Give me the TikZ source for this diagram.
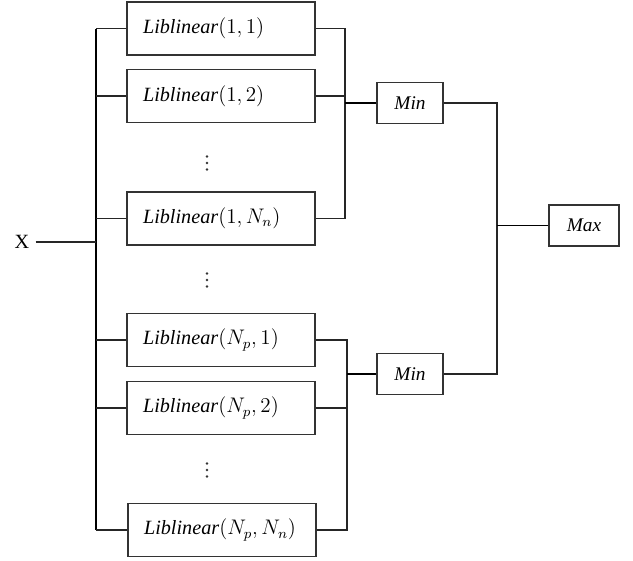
\documentclass[tikz,border=0pt]{standalone}
\usepackage{fontspec}
\setmainfont{Liberation Serif}
\usetikzlibrary{positioning}

\tikzset{
	learner/.style={draw=black!80, line width=0.7pt, text width=3.12cm, align=left,
		inner xsep=0.32cm, minimum height=1.06cm, font=\fontsize{11.5}{13}\selectfont},
	opbox/.style={draw=black!80, line width=0.7pt, minimum width=1.32cm,
		minimum height=0.82cm, font=\fontsize{11}{13}\selectfont\itshape},
	wire/.style={black!85, line width=0.6pt},
	bus/.style={black, line width=1pt},
}
\newcommand{\lib}[2]{\textit{Liblinear}$\bigl(#1,#2\bigr)$}
\newcommand{\skipdots}[1]{\foreach \k in {-1,0,1} \fill[black!80] (#1) ++(0,\k*6.5) circle (0.8pt);}

\begin{document}
\begin{tikzpicture}[x=0.02cm, y=-0.02cm]
	\useasboundingbox (0,0) rectangle (633,561);
	% learners of the first group
	\node[learner] (l11) at (221,28.5) {\lib{1}{1}};
	\node[learner] (l12) at (221,96) {\lib{1}{2}};
	\coordinate (d1) at (207,163);
	\node[learner] (l1n) at (221,218.5) {\lib{1}{N_n}};
	\coordinate (d2) at (207,280);
	% learners of the last group
	\node[learner] (lp1) at (221,340) {\lib{N_p}{1}};
	\node[learner] (lp2) at (221,408) {\lib{N_p}{2}};
	\coordinate (d3) at (207,470);
	\node[learner] (lpn) at (222,530) {\lib{N_p}{N_n}};
	\skipdots{d1} \skipdots{d2} \skipdots{d3}
	% min / max
	\node[opbox] (min1) at (410,103) {Min};
	\node[opbox] (min2) at (410,374) {Min};
	\node[opbox, minimum width=1.4cm] (maxn) at (584,225.5) {Max};
	\node[font=\fontsize{11.5}{13}\selectfont] (xin) at (22,242) {X};

	\coordinate (bt) at (96,28.5);
	\coordinate (bb) at (96,530);
	\coordinate (r1) at (345,28.5);
	\coordinate (r2) at (347,340);
	\coordinate (jn) at (497,225.5);

	% input bus
	\draw[bus] (bt) -- (bb);
	\draw[wire] (xin) -- (xin -| bt);
	\foreach \n in {l11,l12,l1n,lp1,lp2,lpn}
		\draw[wire] (\n.west) -- (\n.west -| bt);
	% first group to min
	\draw[wire] (l11.east) -- (l11.east -| r1) -- (l1n.east -| r1) -- (l1n.east);
	\draw[wire] (l12.east) -- (l12.east -| r1);
	\draw[bus] (min1.west) -- (min1.west -| r1);
	% last group to min
	\draw[wire] (lp1.east) -- (lp1.east -| r2) -- (lpn.east -| r2) -- (lpn.east);
	\draw[wire] (lp2.east) -- (lp2.east -| r2);
	\draw[bus] (min2.west) -- (min2.west -| r2);
	% max
	\draw[wire] (min1.east) -| (jn) |- (min2.east);
	\draw[bus] (jn) -- (maxn);
\end{tikzpicture}
\end{document}
